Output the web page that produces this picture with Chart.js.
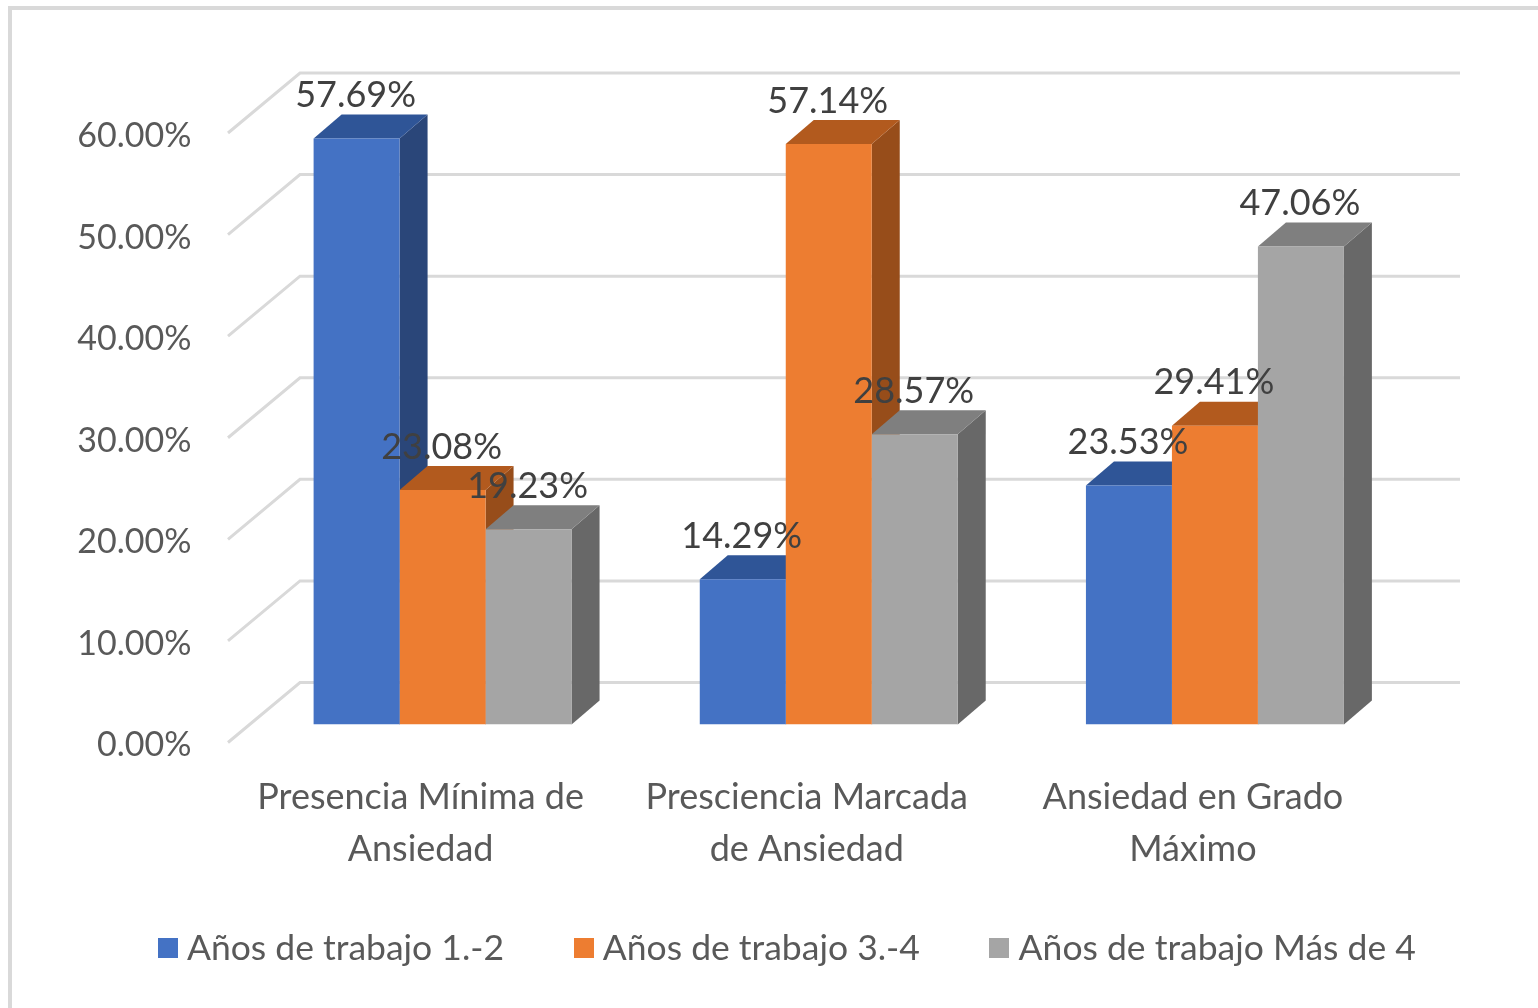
<!DOCTYPE html>
<html><head><meta charset="utf-8">
<style>html,body{margin:0;padding:0;background:#fff;overflow:hidden}#w{width:1538px;height:1008px;position:relative}canvas{display:block;filter:blur(0.7px)}</style>
<script src="https://cdn.jsdelivr.net/npm/chart.js@4"></script></head>
<body><div id="w"><canvas id="c" width="1538" height="1008"></canvas></div>
<script>
const categories = [['Presencia Mínima de','Ansiedad'],['Presciencia Marcada','de Ansiedad'],['Ansiedad en Grado','Máximo']];
const seriesNames = ['Años de trabajo 1.-2','Años de trabajo 3.-4','Años de trabajo Más de 4'];
const series1 = [57.69,14.29,23.53];
const series2 = [23.08,57.14,29.41];
const series3 = [19.23,28.57,47.06];
const frontColors = ['#4472C4','#ED7D31','#A5A5A5'];
const topColors = ['#2F5597','#B25A1E','#7F7F7F'];
const sideColors = ['#2A4679','#974D1A','#686868'];
const tickColor = '#595959';
const FONT = 'Lato, Carlito, sans-serif';
const DX = 28, DY = 24;

function swatch(color){
  const s = document.createElement('canvas');
  s.width = 20; s.height = 20;
  const g = s.getContext('2d');
  g.fillStyle = color; g.fillRect(0,0,20,20);
  return s;
}
const swatches = frontColors.map(swatch);

const three = {
  id:'three',
  afterLayout(chart){
    chart.legend.top -= 32;
    chart.legend.bottom -= 32;
  },
  beforeDraw(chart){
    const c = chart.ctx;
    c.save();
    c.strokeStyle='#d9d9d9'; c.lineWidth=4;
    c.strokeRect(10,8,1600,1100);
    c.restore();
  },
  beforeDatasetsDraw(chart){
    const c = chart.ctx, y = chart.scales.y, a = chart.chartArea;
    c.save();
    c.strokeStyle='#d9d9d9'; c.lineWidth=3;
    y.ticks.forEach(t=>{
      const p = y.getPixelForValue(t.value);
      c.beginPath();
      c.moveTo(a.left-21.5,p+18);
      c.lineTo(a.left+50.5,p-42);
      c.lineTo(1460,p-42);
      c.stroke();
    });
    chart.data.datasets.forEach((d,i)=>{
      chart.getDatasetMeta(i).data.forEach(b=>{
        const l=b.x-b.width/2,r=b.x+b.width/2,t=b.y,bt=b.base;
        c.fillStyle=sideColors[i];
        c.beginPath();c.moveTo(r,t);c.lineTo(r+DX,t-DY);c.lineTo(r+DX,bt-DY);c.lineTo(r,bt);c.closePath();c.fill();
        c.fillStyle=topColors[i];
        c.beginPath();c.moveTo(l,t);c.lineTo(l+DX,t-DY);c.lineTo(r+DX,t-DY);c.lineTo(r,t);c.closePath();c.fill();
      });
    });
    c.restore();
  },
  afterDatasetsDraw(chart){
    const c = chart.ctx;
    c.save();
    c.fillStyle='#404040';
    c.font='36px '+FONT;
    c.textAlign='center';c.textBaseline='middle';
    chart.data.datasets.forEach((d,i)=>{
      chart.getDatasetMeta(i).data.forEach((b,j)=>{
        c.fillText(d.data[j].toFixed(2)+'%',b.x-1,b.y-43);
      });
    });
    c.restore();
  }
};

new Chart(document.getElementById('c'),{
  type:'bar',
  data:{labels:categories,datasets:[
    {label:seriesNames[0],data:series1,backgroundColor:frontColors[0]},
    {label:seriesNames[1],data:series2,backgroundColor:frontColors[1]},
    {label:seriesNames[2],data:series3,backgroundColor:frontColors[2]}
  ]},
  options:{
    responsive:false,animation:false,
    categoryPercentage:0.668,barPercentage:1,
    layout:{padding:{left:44,right:0,top:115,bottom:0}},
    plugins:{
      tooltip:{enabled:false},
      legend:{position:'bottom',labels:{
        usePointStyle:true,pointStyleWidth:3,boxHeight:20,padding:78,color:tickColor,font:{family:FONT,size:35.5},
        generateLabels(chart){
          return Chart.defaults.plugins.legend.labels.generateLabels(chart).map((it,i)=>Object.assign(it,{pointStyle:swatches[i]}));
        }
      }}
    },
    scales:{
      x:{grid:{display:false},border:{display:false},
         afterFit(s){s.height=160;},
         ticks:{color:tickColor,labelOffset:-22,padding:39,maxRotation:0,font:{family:FONT,size:36,lineHeight:1.44}}},
      y:{min:0,max:60,grid:{display:false,drawTicks:false},border:{display:false},
         afterFit(s){s.width=205.5;},
         ticks:{stepSize:10,labelOffset:21,padding:58,color:tickColor,font:{family:FONT,size:34},callback:v=>v.toFixed(2)+'%'}},
      yr:{position:'right',display:true,grid:{display:false},border:{display:false},ticks:{display:false},afterFit(s){s.width=130;}}
    }
  },
  plugins:[three]
});
</script></body></html>
